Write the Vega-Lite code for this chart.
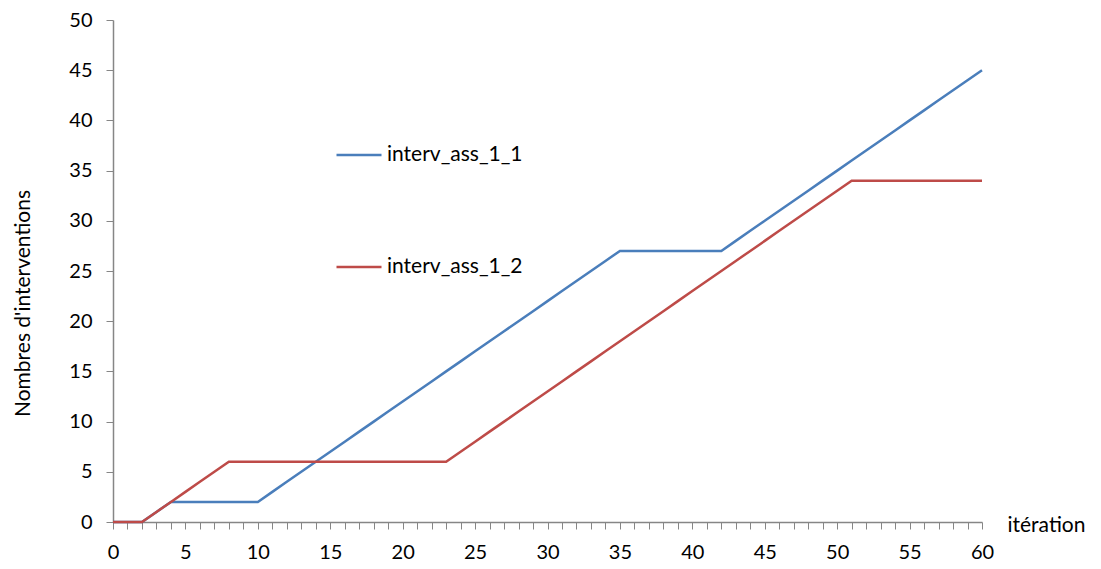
{
  "$schema": "https://vega.github.io/schema/vega-lite/v6.json",
  "autosize": "none",
  "width": 869,
  "height": 502,
  "padding": {"left": 113, "top": 20, "right": 119, "bottom": 47},
  "background": "white",
  "config": {"view": {"stroke": null}, "font": "Lato"},
  "data": {"values": [
    {"iteration":0,"serie":"interv_ass_1_1","value":0},{"iteration":1,"serie":"interv_ass_1_1","value":0},{"iteration":2,"serie":"interv_ass_1_1","value":0},{"iteration":3,"serie":"interv_ass_1_1","value":1},{"iteration":4,"serie":"interv_ass_1_1","value":2},{"iteration":5,"serie":"interv_ass_1_1","value":2},{"iteration":6,"serie":"interv_ass_1_1","value":2},{"iteration":7,"serie":"interv_ass_1_1","value":2},{"iteration":8,"serie":"interv_ass_1_1","value":2},{"iteration":9,"serie":"interv_ass_1_1","value":2},{"iteration":10,"serie":"interv_ass_1_1","value":2},
    {"iteration":11,"serie":"interv_ass_1_1","value":3},{"iteration":12,"serie":"interv_ass_1_1","value":4},{"iteration":13,"serie":"interv_ass_1_1","value":5},{"iteration":14,"serie":"interv_ass_1_1","value":6},{"iteration":15,"serie":"interv_ass_1_1","value":7},{"iteration":16,"serie":"interv_ass_1_1","value":8},{"iteration":17,"serie":"interv_ass_1_1","value":9},{"iteration":18,"serie":"interv_ass_1_1","value":10},{"iteration":19,"serie":"interv_ass_1_1","value":11},{"iteration":20,"serie":"interv_ass_1_1","value":12},
    {"iteration":21,"serie":"interv_ass_1_1","value":13},{"iteration":22,"serie":"interv_ass_1_1","value":14},{"iteration":23,"serie":"interv_ass_1_1","value":15},{"iteration":24,"serie":"interv_ass_1_1","value":16},{"iteration":25,"serie":"interv_ass_1_1","value":17},{"iteration":26,"serie":"interv_ass_1_1","value":18},{"iteration":27,"serie":"interv_ass_1_1","value":19},{"iteration":28,"serie":"interv_ass_1_1","value":20},{"iteration":29,"serie":"interv_ass_1_1","value":21},{"iteration":30,"serie":"interv_ass_1_1","value":22},
    {"iteration":31,"serie":"interv_ass_1_1","value":23},{"iteration":32,"serie":"interv_ass_1_1","value":24},{"iteration":33,"serie":"interv_ass_1_1","value":25},{"iteration":34,"serie":"interv_ass_1_1","value":26},{"iteration":35,"serie":"interv_ass_1_1","value":27},{"iteration":36,"serie":"interv_ass_1_1","value":27},{"iteration":37,"serie":"interv_ass_1_1","value":27},{"iteration":38,"serie":"interv_ass_1_1","value":27},{"iteration":39,"serie":"interv_ass_1_1","value":27},{"iteration":40,"serie":"interv_ass_1_1","value":27},
    {"iteration":41,"serie":"interv_ass_1_1","value":27},{"iteration":42,"serie":"interv_ass_1_1","value":27},{"iteration":43,"serie":"interv_ass_1_1","value":28},{"iteration":44,"serie":"interv_ass_1_1","value":29},{"iteration":45,"serie":"interv_ass_1_1","value":30},{"iteration":46,"serie":"interv_ass_1_1","value":31},{"iteration":47,"serie":"interv_ass_1_1","value":32},{"iteration":48,"serie":"interv_ass_1_1","value":33},{"iteration":49,"serie":"interv_ass_1_1","value":34},{"iteration":50,"serie":"interv_ass_1_1","value":35},
    {"iteration":51,"serie":"interv_ass_1_1","value":36},{"iteration":52,"serie":"interv_ass_1_1","value":37},{"iteration":53,"serie":"interv_ass_1_1","value":38},{"iteration":54,"serie":"interv_ass_1_1","value":39},{"iteration":55,"serie":"interv_ass_1_1","value":40},{"iteration":56,"serie":"interv_ass_1_1","value":41},{"iteration":57,"serie":"interv_ass_1_1","value":42},{"iteration":58,"serie":"interv_ass_1_1","value":43},{"iteration":59,"serie":"interv_ass_1_1","value":44},{"iteration":60,"serie":"interv_ass_1_1","value":45},
    {"iteration":0,"serie":"interv_ass_1_2","value":0},{"iteration":1,"serie":"interv_ass_1_2","value":0},{"iteration":2,"serie":"interv_ass_1_2","value":0},{"iteration":3,"serie":"interv_ass_1_2","value":1},{"iteration":4,"serie":"interv_ass_1_2","value":2},{"iteration":5,"serie":"interv_ass_1_2","value":3},{"iteration":6,"serie":"interv_ass_1_2","value":4},{"iteration":7,"serie":"interv_ass_1_2","value":5},{"iteration":8,"serie":"interv_ass_1_2","value":6},{"iteration":9,"serie":"interv_ass_1_2","value":6},{"iteration":10,"serie":"interv_ass_1_2","value":6},
    {"iteration":11,"serie":"interv_ass_1_2","value":6},{"iteration":12,"serie":"interv_ass_1_2","value":6},{"iteration":13,"serie":"interv_ass_1_2","value":6},{"iteration":14,"serie":"interv_ass_1_2","value":6},{"iteration":15,"serie":"interv_ass_1_2","value":6},{"iteration":16,"serie":"interv_ass_1_2","value":6},{"iteration":17,"serie":"interv_ass_1_2","value":6},{"iteration":18,"serie":"interv_ass_1_2","value":6},{"iteration":19,"serie":"interv_ass_1_2","value":6},{"iteration":20,"serie":"interv_ass_1_2","value":6},
    {"iteration":21,"serie":"interv_ass_1_2","value":6},{"iteration":22,"serie":"interv_ass_1_2","value":6},{"iteration":23,"serie":"interv_ass_1_2","value":6},{"iteration":24,"serie":"interv_ass_1_2","value":7},{"iteration":25,"serie":"interv_ass_1_2","value":8},{"iteration":26,"serie":"interv_ass_1_2","value":9},{"iteration":27,"serie":"interv_ass_1_2","value":10},{"iteration":28,"serie":"interv_ass_1_2","value":11},{"iteration":29,"serie":"interv_ass_1_2","value":12},{"iteration":30,"serie":"interv_ass_1_2","value":13},
    {"iteration":31,"serie":"interv_ass_1_2","value":14},{"iteration":32,"serie":"interv_ass_1_2","value":15},{"iteration":33,"serie":"interv_ass_1_2","value":16},{"iteration":34,"serie":"interv_ass_1_2","value":17},{"iteration":35,"serie":"interv_ass_1_2","value":18},{"iteration":36,"serie":"interv_ass_1_2","value":19},{"iteration":37,"serie":"interv_ass_1_2","value":20},{"iteration":38,"serie":"interv_ass_1_2","value":21},{"iteration":39,"serie":"interv_ass_1_2","value":22},{"iteration":40,"serie":"interv_ass_1_2","value":23},
    {"iteration":41,"serie":"interv_ass_1_2","value":24},{"iteration":42,"serie":"interv_ass_1_2","value":25},{"iteration":43,"serie":"interv_ass_1_2","value":26},{"iteration":44,"serie":"interv_ass_1_2","value":27},{"iteration":45,"serie":"interv_ass_1_2","value":28},{"iteration":46,"serie":"interv_ass_1_2","value":29},{"iteration":47,"serie":"interv_ass_1_2","value":30},{"iteration":48,"serie":"interv_ass_1_2","value":31},{"iteration":49,"serie":"interv_ass_1_2","value":32},{"iteration":50,"serie":"interv_ass_1_2","value":33},
    {"iteration":51,"serie":"interv_ass_1_2","value":34},{"iteration":52,"serie":"interv_ass_1_2","value":34},{"iteration":53,"serie":"interv_ass_1_2","value":34},{"iteration":54,"serie":"interv_ass_1_2","value":34},{"iteration":55,"serie":"interv_ass_1_2","value":34},{"iteration":56,"serie":"interv_ass_1_2","value":34},{"iteration":57,"serie":"interv_ass_1_2","value":34},{"iteration":58,"serie":"interv_ass_1_2","value":34},{"iteration":59,"serie":"interv_ass_1_2","value":34},{"iteration":60,"serie":"interv_ass_1_2","value":34}
  ]},
  "mark": {"type": "line", "strokeWidth": 2.5, "interpolate": "linear"},
  "encoding": {
    "x": {
      "field": "iteration", "type": "quantitative",
      "scale": {"domain": [0, 60], "nice": false, "zero": true},
      "axis": {
        "title": "itération",
        "titleX": 894, "titleY": 3, "titleAlign": "left", "titleBaseline": "middle", "titleAngle": 0,
        "titleFontSize": 21, "titleFontWeight": "normal", "titleColor": "#000000", "titleFont": "Lato",
        "values": [0,1,2,3,4,5,6,7,8,9,10,11,12,13,14,15,16,17,18,19,20,21,22,23,24,25,26,27,28,29,30,31,32,33,34,35,36,37,38,39,40,41,42,43,44,45,46,47,48,49,50,51,52,53,54,55,56,57,58,59,60],
        "labelExpr": "datum.value % 5 === 0 ? datum.label : ''",
        "labelFontSize": 20, "labelColor": "#000000", "labelFont": "Lato",
        "labelPadding": 13, "labelFlush": false, "labelOverlap": false,
        "grid": false, "domainColor": "#868686", "domainWidth": 1.5,
        "tickColor": "#868686", "tickSize": 7, "tickWidth": 1
      }
    },
    "y": {
      "field": "value", "type": "quantitative",
      "scale": {"domain": [0, 50], "nice": false},
      "axis": {
        "title": "Nombres d'interventions",
        "titleX": -90, "titleY": 283, "titleAlign": "center", "titleBaseline": "middle", "titleAngle": -90,
        "titleFontSize": 21, "titleFontWeight": "normal", "titleColor": "#000000", "titleFont": "Lato",
        "values": [0,5,10,15,20,25,30,35,40,45,50],
        "labelFontSize": 20, "labelColor": "#000000", "labelFont": "Lato",
        "labelPadding": 14, "labelFlush": false,
        "grid": false, "domainColor": "#868686", "domainWidth": 1.5,
        "tickColor": "#868686", "tickSize": 7, "tickWidth": 1
      }
    },
    "color": {
      "field": "serie", "type": "nominal",
      "scale": {"domain": ["interv_ass_1_1", "interv_ass_1_2"], "range": ["#4A7EBB", "#BE4B48"]},
      "legend": {
        "title": null, "orient": "none", "legendX": 222, "legendY": 111, "direction": "vertical",
        "symbolType": "stroke", "symbolSize": 2025, "symbolStrokeWidth": 2.5,
        "labelFontSize": 21, "labelColor": "#000000", "labelFont": "Lato", "labelOffset": 4,
        "rowPadding": 78
      }
    }
  }
}
